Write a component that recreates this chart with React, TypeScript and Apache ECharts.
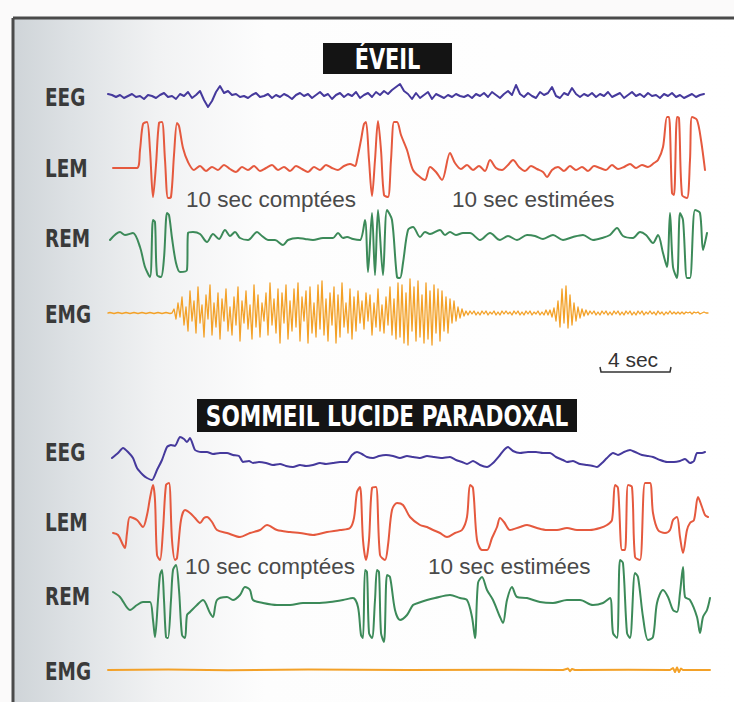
import React, { useEffect, useRef } from "react";
import * as echarts from "echarts";

type Pt = [number, number];

// Time axis in ticks (about 1/16 s each); amplitudes in arbitrary units.
const EEG_STEP = 4;
const EMG_STEP = 2;

const channelLabels = ["EEG", "LEM", "REM", "EMG"];
const panelTitles = ["ÉVEIL", "SOMMEIL LUCIDE PARADOXAL"];
const intervalLabels = ["10 sec comptées", "10 sec estimées"];
const scaleLabel = "4 sec";

// ---- ÉVEIL ----
const eveilEEG: number[] = [
  2, 1, -1, 1, -2, 0, 2, -1, 0, -3, 1, 0, -2, 1, 3, -1, 0, -3, 2, 0, 4, -2, 1, 5, -4, -11, -5, 4, 10, 3,
  5, 1, 2, -1, 0, -2, 1, 3, -1, 0, 2, -2, 1, -1, 2, 0, -3, 1, 3, 0, 2, -2, 1, 4, 0, 2, -3, 1, 3, -1,
  2, 0, 4, -2, 1, 3, -1, 4, 1, 5, 2, 6, 9, 12, 5, 2, -3, 3, -2, 1, 4, -3, 2, 0, -2, 1, -1, 2, 0, -1,
  1, -2, 2, 0, 3, -1, 4, 1, -2, 2, 5, 1, 11, 2, -1, 3, 0, -2, 4, 1, 3, 9, 0, -2, 3, 1, 8, 2, -1, 2,
  0, 3, -1, 2, 0, 4, -1, 1, 3, -2, 1, 4, 0, 2, -1, 3, 0, 1, -2, 2, 0, 3, -1, 1, -2, 0, 2, -1, 1, 2,
];

const eveilLEM: Pt[] = [
  [5, 0], [29, 0], [32, 18], [35, 44], [39, 46], [42, 18], [45, -29], [48, 3], [51, 45], [54, 46],
  [57, 8], [60, -30], [63, -29], [66, 13], [69, 45], [71, 42], [75, 20], [80, 6], [86, -2], [92, 2],
  [98, -3], [104, 1], [110, -2], [116, 3], [122, -1], [128, -4], [134, 1], [140, -2], [146, 2], [152, -3],
  [158, 0], [164, 3], [170, -2], [176, 1], [182, -3], [188, 2], [194, -1], [200, -4], [206, 1], [212, -2],
  [218, 3], [224, 0], [230, -2], [236, 2], [242, 4], [247, 2], [249, 8], [253, 28], [256, 44], [258, 46],
  [261, 8], [264, -28], [267, 8], [270, 47], [273, 18], [276, -27], [280, -29], [283, 8], [286, 46], [289, 46],
  [293, 33], [299, 18], [305, -2], [312, -9], [317, -12], [322, 1], [328, -4], [334, -12], [342, 15], [347, 5],
  [353, -1], [359, 3], [365, -2], [371, 2], [377, -3], [382, 8], [388, 0], [394, -2], [400, 3], [405, 8],
  [411, 1], [417, -3], [423, 2], [429, -1], [435, -4], [439, -9], [444, -2], [450, 1], [456, -3], [462, 2],
  [468, -2], [474, 1], [480, -3], [486, 2], [492, 0], [498, -2], [504, 3], [510, -1], [516, 1], [522, 4],
  [528, 0], [534, 3], [540, 1], [546, 5], [550, 8], [555, 21], [559, 51], [561, 51], [564, -25], [566, -27],
  [569, 51], [571, 50], [574, -27], [579, -30], [582, 8], [584, 51], [589, 48], [593, 28], [597, -2],
];

const eveilREM: Pt[] = [
  [2, -2], [12, 6], [17, 3], [25, 5], [32, -9], [37, -29], [42, -39], [45, 18], [47, 16], [49, -37],
  [53, -39], [56, -20], [59, 25], [61, 23], [64, 0], [68, -25], [72, -34], [79, -32], [80, 5], [85, 6],
  [92, 4], [99, -4], [105, 4], [111, -1], [117, 8], [122, 2], [127, 6], [132, 0], [140, -2], [149, 6],
  [154, 2], [160, -2], [167, -2], [175, -7], [180, -2], [190, 0], [197, -1], [205, -2], [215, 0], [225, 0],
  [230, 5], [235, 0], [239, 1], [245, -1], [252, -2], [257, 18], [260, -34], [264, 25], [267, -37], [270, 28],
  [275, -37], [279, 28], [284, 18], [289, -39], [292, -40], [295, -25], [300, 8], [305, 11], [312, 1], [317, 6],
  [322, 4], [332, 8], [337, 3], [342, 6], [348, 3], [355, 5], [362, 5], [372, -2], [382, 5], [392, -2],
  [400, 2], [409, -2], [419, 3], [427, 2], [435, -1], [445, 3], [455, -2], [465, 1], [475, 3], [485, -2],
  [494, 0], [502, 3], [509, 10], [515, 2], [525, 0], [532, 6], [538, 3], [545, -5], [550, 3], [555, -15],
  [559, -29], [562, 25], [565, -29], [569, -40], [572, 25], [575, 18], [579, -40], [582, -40], [587, 28], [592, 25],
  [595, -12], [599, 5],
];

const eveilEMG: number[] = [
  0, 0.5, 0, -0.5, 0, 0.5, 0, -0.5, 0, 0.5, 0, -0.5, 0, 0.5, 0, -0.5, 0, 0.5, 0, -0.5, 0, 0.5, 0, -0.5, 0, 0.5, 0, -0.5, 0, 0.5, 0, -0.5, 0,
  4, -6, 10, -4, 16, -12, 6, -18, 22, -8, 12, -20, 26, -10,
  8, -24, 18, -6, 28, -22, 10, -14, 20, -26, 14, -8, 24, -18, 6, -22, 16, -12, 26, -28,
  12, -10, 22, -16, 8, -26, 28, -14, 18, -24, 10, -8, 20, -22, 30, -12, 14, -20, 24, -30,
  20, -10, 28, -26, 12, -18, 24, -14, 30, -28, 16, -8, 22, -30, 26, -20, 10, -24, 28, -16,
  32, -22, 14, -28, 20, -12, 26, -30, 18, -24, 30, -14, 10, -20, 24, -26, 16, -18, 22, -10,
  12, -16, 20, -8, 18, -22, 10, -14, 24, -18, 8, -20, 16, -12, 26, -22, 14, -26, 30, -24,
  28, -30, 20, -32, 34, -18, 26, -28, 32, -24, 18, -30, 30, -26, 22, -32, 28, -20, 24, -28,
  22, -18, 16, -20, 14, -10, 12, -8, 6, -5, 4, -3, 2,
  -2, 2, -1, 2, -2, 1, -2, 2, -1, 2, -2, 1, -1, 2, -2, 1, -2, 2, -1, 2, -1, 1, -2, 2, -1, 2, -2, 1, -2, 2,
  -1, 2, -2, 1, -1, 2, -2, 1, -2, 3, -2, 3, -4, 5,
  -8, 12, -14, 24, -10, 27, -15, 18, -12, 10, -8, 6, -5, 4, -3, 3, -2,
  2, -1, 2, -2, 1, -2, 2, -1, 2, -2, 1, -2, 2, -1, 2, -2, 1, -2, 2, -1, 2, -2, 1, -2, 2, -1, 2, -2, 1, -1,
  2, -1, 1, -2, 2, -1, 1, -2, 1, -1, 2, -1, 1, -1, 1, -1, 1, -1, 1, 0, 1, -1, 1, 0, 1, -1, 0, 1, 0, 0,
];

// ---- SOMMEIL LUCIDE PARADOXAL ----
const sommeilEEG: Pt[] = [
  [4, 0], [10, 5], [15, 10], [20, 6], [25, 0], [29, -10], [35, -17], [39, -20], [44, -22], [49, -12],
  [54, -2], [59, 11], [63, 13], [67, 12], [72, 21], [76, 19], [79, 16], [82, 20], [87, 8], [93, 6],
  [99, 6], [105, 4], [112, 5], [119, 5], [125, 3], [131, 2], [135, -4], [141, -3], [145, -5], [151, -4],
  [158, -5], [165, -7], [172, -6], [178, -8], [185, -9], [192, -7], [198, -8], [205, -7], [212, -5], [218, -6],
  [225, -5], [232, -4], [239, -4], [244, 3], [249, 6], [254, 4], [259, 1], [265, 0], [271, 2], [278, 3],
  [285, 2], [292, 0], [299, 2], [305, 1], [312, 0], [319, 2], [326, 1], [333, 0], [342, 1], [348, -2],
  [354, -4], [359, -6], [365, -3], [372, -7], [379, -9], [385, -5], [392, 3], [396, 8], [400, 11], [405, 7],
  [412, 5], [420, 6], [428, 6], [435, 5], [442, 5], [448, 1], [455, -2], [459, -4], [465, -3], [472, -6],
  [479, -7], [485, -8], [489, -9], [494, -5], [499, 0], [505, 5], [510, 3], [516, 6], [522, 8], [527, 6],
  [534, 3], [540, 2], [545, 1], [552, -2], [559, -4], [566, -4], [572, -3], [577, -1], [582, -5], [586, -3],
  [589, 5], [594, 5], [597, 6],
];

const sommeilLEM: Pt[] = [
  [5, -8], [10, -10], [15, -20], [17, -23], [19, -8], [22, 8], [29, 5], [35, -2], [39, 10], [42, 27],
  [45, 40], [47, 25], [49, -30], [52, -35], [55, -5], [58, 40], [61, 42], [64, -15], [67, -35], [69, -33],
  [73, 5], [77, 15], [82, 12], [87, 7], [92, 2], [96, 7], [99, 8], [104, 3], [109, -5], [119, -8],
  [132, -12], [142, -8], [152, -5], [159, 0], [169, -5], [182, -7], [192, -8], [205, -10], [219, -7], [232, -5],
  [242, -3], [246, 7], [249, 33], [252, 38], [255, -15], [258, -35], [261, -15], [264, 37], [268, 38], [272, -30],
  [277, -35], [280, -20], [284, 15], [289, 22], [295, 20], [302, 8], [312, 0], [319, -2], [325, -5], [332, -8],
  [339, -12], [347, -8], [354, -5], [359, 8], [362, 40], [365, 37], [369, -15], [374, -25], [379, -25], [384, -13],
  [389, -2], [392, 7], [396, 3], [402, -5], [412, -2], [419, 0], [429, -3], [439, -5], [449, -5], [459, -3],
  [469, -5], [482, -5], [492, -3], [499, 0], [504, 5], [507, 40], [510, 37], [514, -25], [517, -25], [520, 40],
  [524, 38], [527, -32], [532, -35], [537, 42], [542, 42], [545, 12], [550, -5], [557, -8], [562, -5], [565, 5],
  [569, 8], [572, -12], [575, -28], [579, -5], [582, 2], [586, 5], [590, 28], [594, 18], [597, 10], [600, 8],
];

const sommeilREM: Pt[] = [
  [5, 8], [12, 3], [22, -10], [29, -5], [35, -2], [42, -2], [45, -20], [47, -37], [50, 0], [52, 25],
  [54, 30], [56, 0], [58, -37], [60, -38], [63, 0], [65, 30], [68, 35], [71, 10], [74, -35], [77, -38],
  [79, -15], [82, -12], [89, -5], [95, 0], [102, -13], [105, -17], [109, 0], [119, 3], [125, 0], [132, 5],
  [137, 13], [142, 10], [145, 0], [155, -3], [169, -5], [182, -5], [195, -3], [209, -3], [222, -2], [235, 0],
  [245, 2], [250, -7], [253, -35], [255, -38], [257, 30], [259, 28], [261, -33], [264, -38], [267, 0], [269, 30],
  [271, 28], [273, -33], [276, -42], [279, 25], [282, 23], [287, -10], [292, -20], [299, -15], [305, -5], [310, -3],
  [319, 0], [327, 2], [342, 5], [352, 2], [359, 0], [364, -17], [367, -38], [370, 17], [374, 23], [379, 10],
  [385, 0], [392, -17], [395, -23], [399, 0], [404, 13], [409, 3], [419, 2], [432, -2], [445, -3], [459, 0],
  [472, 0], [485, -5], [495, -3], [502, 2], [505, -33], [509, -38], [512, 40], [515, 37], [519, -33], [522, -38],
  [527, 27], [530, 23], [535, -17], [540, -40], [545, -37], [549, -3], [555, 10], [560, 3], [565, -10], [569, -12],
  [572, 7], [575, 33], [577, 3], [582, 0], [589, -17], [592, -33], [595, -17], [599, -10], [602, 2],
];

const sommeilEMG: Pt[] = [
  [0, 0], [60, 0.4], [120, -0.3], [200, 0.4], [300, 0], [400, 0.3], [455, 0], [460, 1.5], [462, -1.2], [464, 1],
  [467, 0], [520, 0.3], [562, 0], [565, 2], [567, -2], [569, 2.5], [571, -2], [573, 1.5], [575, 0], [602, 0],
];

const COLORS = { EEG: "#45399c", LEM: "#e5593e", REM: "#3c8a59", EMG: "#f3a128" };
const LABEL_FONT = "'DejaVu Sans Condensed', 'Liberation Sans', sans-serif";
const NOTE_FONT = "'Liberation Sans', Arial, sans-serif";

const toPairs = (vals: number[], step: number): Pt[] => vals.map((v, i) => [i * step, v]);

const traces = [
  { data: toPairs(eveilEEG, EEG_STEP), color: COLORS.EEG, center: 96, width: 2, smooth: false },
  { data: eveilLEM, color: COLORS.LEM, center: 168, width: 2, smooth: 0.3 },
  { data: eveilREM, color: COLORS.REM, center: 238, width: 2, smooth: 0.3 },
  { data: toPairs(eveilEMG, EMG_STEP), color: COLORS.EMG, center: 313, width: 1.3, smooth: false },
  { data: sommeilEEG, color: COLORS.EEG, center: 458, width: 2, smooth: 0.2 },
  { data: sommeilLEM, color: COLORS.LEM, center: 525, width: 2, smooth: 0.3 },
  { data: sommeilREM, color: COLORS.REM, center: 600, width: 2, smooth: 0.3 },
  { data: sommeilEMG, color: COLORS.EMG, center: 670, width: 2, smooth: false },
];

const labelY = [97, 168, 238, 314, 452, 522, 596, 671];

export default function App() {
  const ref = useRef<HTMLDivElement>(null);
  useEffect(() => {
    if (!ref.current) return;
    const chart = echarts.init(ref.current, undefined, { renderer: "svg" });
    const H = 60;
    const graphic: any[] = [
      {
        type: "rect",
        z: -10,
        shape: { x: 13, y: 18, width: 721, height: 684 },
        style: {
          fill: new echarts.graphic.LinearGradient(0, 0, 1, 0, [
            { offset: 0, color: "#cfd4d8" },
            { offset: 0.08, color: "#dde1e4" },
            { offset: 0.2, color: "#f1f2f3" },
            { offset: 0.35, color: "#fdfdfd" },
            { offset: 1, color: "#ffffff" },
          ]),
        },
      },
      { type: "line", z: 5, shape: { x1: 13, y1: 18, x2: 734, y2: 18 }, style: { stroke: "#4a4a4a", lineWidth: 3 } },
      { type: "line", z: 5, shape: { x1: 13, y1: 18, x2: 13, y2: 702 }, style: { stroke: "#4a4a4a", lineWidth: 3 } },
      { type: "rect", z: 5, shape: { x: 323, y: 43, width: 129, height: 31 }, style: { fill: "#141414" } },
      {
        type: "text", z: 6, x: 387.5, y: 59, scaleX: 0.8,
        style: { x: 0, y: 0, text: panelTitles[0], fill: "#ffffff", font: `bold 29px ${LABEL_FONT}`, textAlign: "center", textVerticalAlign: "middle" },
      },
      { type: "rect", z: 5, shape: { x: 197, y: 399, width: 380, height: 33 }, style: { fill: "#141414" } },
      {
        type: "text", z: 6, x: 387, y: 416, scaleX: 0.83,
        style: { x: 0, y: 0, text: panelTitles[1], fill: "#ffffff", font: `bold 29px ${LABEL_FONT}`, textAlign: "center", textVerticalAlign: "middle" },
      },
    ];
    labelY.forEach((y, i) => {
      graphic.push({
        type: "text", z: 6, x: 45, y, scaleX: 0.82,
        style: { x: 0, y: 0, text: channelLabels[i % 4], fill: "#3a3a3a", font: `bold 25px ${LABEL_FONT}`, textAlign: "left", textVerticalAlign: "middle" },
      });
    });
    const annots = [
      { x: 186, y: 199, t: intervalLabels[0] },
      { x: 452, y: 199, t: intervalLabels[1] },
      { x: 185, y: 566, t: intervalLabels[0] },
      { x: 428, y: 566, t: intervalLabels[1] },
    ];
    annots.forEach((a) => {
      graphic.push({
        type: "text", z: 6,
        style: { x: a.x, y: a.y, text: a.t, fill: "#4a4a4a", font: `22.5px ${NOTE_FONT}`, textAlign: "left", textVerticalAlign: "middle" },
      });
    });
    graphic.push({
      type: "text", z: 6,
      style: { x: 633, y: 359, text: scaleLabel, fill: "#333", font: `21px ${NOTE_FONT}`, textAlign: "center", textVerticalAlign: "middle" },
    });
    graphic.push({
      type: "polyline", z: 6,
      shape: { points: [[600, 367], [601, 372], [670, 372], [671, 367]] },
      style: { stroke: "#333", lineWidth: 1.5, fill: "none" },
    });

    chart.setOption({
      animation: false,
      backgroundColor: "#fbfafa",
      grid: traces.map((tr) => ({ left: 108, top: tr.center - H / 2, width: 604, height: H, outerBoundsMode: "none" })),
      xAxis: traces.map((_, i) => ({ type: "value", gridIndex: i, min: 0, max: 604, show: false })),
      yAxis: traces.map((_, i) => ({ type: "value", gridIndex: i, min: -H / 2, max: H / 2, show: false })),
      graphic,
      series: traces.map((tr, i) => ({
        type: "line",
        xAxisIndex: i,
        yAxisIndex: i,
        data: tr.data,
        showSymbol: false,
        smooth: tr.smooth,
        silent: true,
        clip: false,
        lineStyle: { color: tr.color, width: tr.width, join: "round", cap: "round" },
        z: 3,
      })),
    });
    return () => chart.dispose();
  }, []);
  return <div ref={ref} style={{ position: "fixed", left: 0, top: 0, width: 734, height: 702 }} />;
}
